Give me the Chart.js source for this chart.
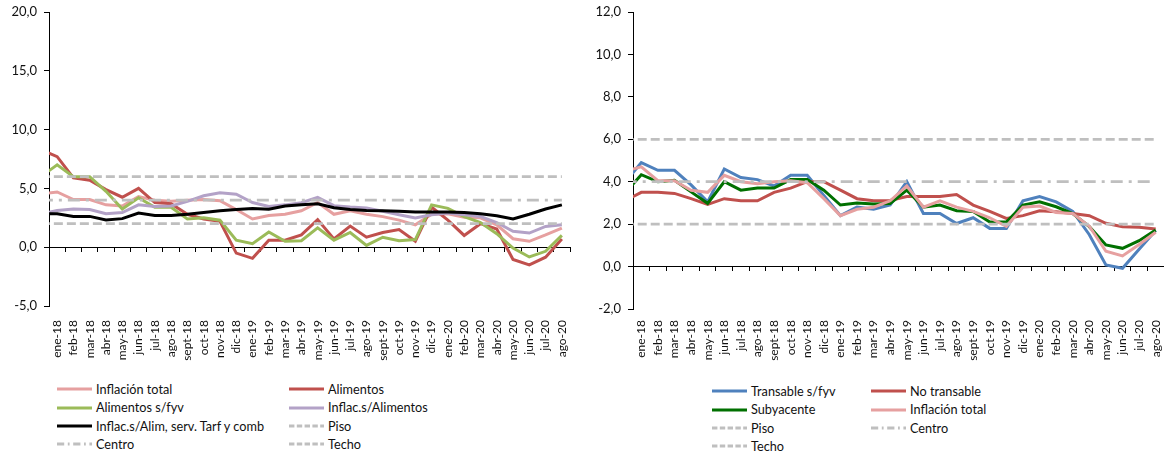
<!DOCTYPE html>
<html lang="es">
<head>
<meta charset="utf-8">
<title>Inflación</title>
<script src="https://cdn.jsdelivr.net/npm/chart.js@4.4.1/dist/chart.umd.min.js"></script>
<style>
  html, body { margin: 0; padding: 0; background: #fff; }
  body { width: 1164px; height: 457px; position: relative; overflow: hidden; font-family: Lato, 'Noto Sans', sans-serif; color: #111; }
  .panel { position: absolute; top: 0; height: 370px; }
  .legend { position: absolute; display: grid; font-size: 12.7px; line-height: 18.4px; }
  .legend .item { display: flex; align-items: center; white-space: nowrap; }
  .legend svg { margin-right: 4px; flex: none; }
</style>
</head>
<body>
<div class="panel" style="left:0;width:580px"><canvas id="chartLeft" width="580" height="370"></canvas></div>
<div class="panel" style="left:580px;width:584px"><canvas id="chartRight" width="584" height="370"></canvas></div>
<div id="legendLeft" class="legend" style="left:57px;top:380px;grid-template-columns:232px auto"></div>
<div id="legendRight" class="legend" style="left:712px;top:382px;grid-template-columns:159px auto"></div>
<script>
// first entry (dic-17) sits outside the visible range, it only feeds the segment that enters at the axis
const months = ['dic-17', 'ene-18', 'feb-18', 'mar-18', 'abr-18', 'may-18', 'jun-18', 'jul-18', 'ago-18', 'sept-18', 'oct-18', 'nov-18',
  'dic-18', 'ene-19', 'feb-19', 'mar-19', 'abr-19', 'may-19', 'jun-19', 'jul-19', 'ago-19', 'sept-19', 'oct-19', 'nov-19',
  'dic-19', 'ene-20', 'feb-20', 'mar-20', 'abr-20', 'may-20', 'jun-20', 'jul-20', 'ago-20'];

const inflacionTotal = [4.5, 4.7, 4.05, 4.05, 3.6, 3.5, 4.3, 4.0, 3.9, 4.0, 4.05, 3.95, 3.2, 2.4, 2.7, 2.8, 3.1, 3.8, 2.8, 3.1, 2.8, 2.6, 2.3, 1.9, 2.8, 2.85, 2.55, 2.5, 1.9, 0.72, 0.5, 1.04, 1.62];
const alimentos = [8.3, 7.7, 5.9, 5.7, 4.9, 4.25, 5.0, 3.8, 3.7, 2.8, 2.4, 2.2, -0.5, -0.95, 0.6, 0.6, 1.05, 2.35, 0.7, 1.8, 0.85, 1.25, 1.5, 0.5, 3.4, 2.3, 1.0, 2.0, 1.55, -1.05, -1.5, -0.85, 0.7];
const alimentosSinFyv = [6.0, 7.0, 6.0, 6.0, 4.75, 3.25, 4.2, 3.4, 3.4, 2.4, 2.5, 2.3, 0.6, 0.3, 1.3, 0.5, 0.55, 1.65, 0.6, 1.25, 0.15, 0.85, 0.55, 0.65, 3.6, 3.3, 2.6, 2.1, 1.15, -0.07, -0.83, -0.35, 1.0];
const inflacSinAlimentos = [2.8, 3.13, 3.24, 3.2, 2.85, 2.95, 3.6, 3.46, 3.5, 3.9, 4.37, 4.62, 4.5, 3.8, 3.47, 3.6, 3.78, 4.24, 3.53, 3.41, 3.33, 3.05, 2.76, 2.48, 2.76, 2.9, 2.76, 2.62, 2.1, 1.35, 1.2, 1.77, 1.9];
const inflacSinAlimServ = [2.85, 2.85, 2.62, 2.62, 2.32, 2.43, 2.9, 2.7, 2.7, 2.8, 2.95, 3.1, 3.2, 3.3, 3.22, 3.5, 3.6, 3.7, 3.35, 3.2, 3.13, 3.1, 3.05, 3.0, 3.0, 3.0, 2.95, 2.85, 2.68, 2.4, 2.8, 3.25, 3.6];

const transableSinFyv = [3.95, 4.9, 4.54, 4.54, 3.85, 3.05, 4.6, 4.2, 4.1, 3.8, 4.3, 4.3, 3.35, 2.4, 2.8, 2.7, 2.9, 4.0, 2.5, 2.5, 2.03, 2.3, 1.8, 1.8, 3.1, 3.3, 3.05, 2.6, 1.5, 0.08, -0.08, 0.82, 1.7];
const noTransable = [3.1, 3.5, 3.5, 3.45, 3.2, 2.93, 3.2, 3.1, 3.1, 3.5, 3.7, 4.0, 4.0, 3.6, 3.2, 3.1, 3.12, 3.3, 3.3, 3.3, 3.4, 2.9, 2.6, 2.27, 2.4, 2.63, 2.58, 2.5, 2.4, 2.04, 1.88, 1.85, 1.77];
const subyacente = [3.45, 4.33, 4.0, 4.07, 3.52, 2.98, 4.0, 3.6, 3.7, 3.7, 4.1, 4.1, 3.6, 2.9, 3.0, 2.95, 2.97, 3.6, 2.8, 2.9, 2.63, 2.6, 2.1, 2.1, 2.9, 3.05, 2.82, 2.5, 1.88, 1.02, 0.86, 1.22, 1.72];

// target band: 2% floor, 4% centre, 6% ceiling
const piso = months.map(() => 2.0);
const centro = months.map(() => 4.0);
const techo = months.map(() => 6.0);

const GRAY = '#bfbfbf';
const DASH = [9, 4];
const DASH_DOT = [12, 6, 3, 6];

function lineSet(label, data, color, width, dash) {
  return { label, data, borderColor: color, backgroundColor: color, borderWidth: width, borderDash: dash || [], pointRadius: 0, tension: 0, fill: false };
}

function withOrder(sets) {
  // later series drawn on top, as in the original spreadsheet
  return sets.map((s, i) => ({ ...s, order: -i }));
}

function buildOptions({ min, max, step, yWidth, xHeight, padRight, labelPad }) {
  const fmt = (v) => v.toFixed(1).replace('.', ',');
  return {
    responsive: false,
    animation: false,
    layout: { padding: { top: 12, right: padRight, bottom: 0, left: 0 } },
    plugins: { legend: { display: false }, tooltip: { enabled: false } },
    scales: {
      x: {
        type: 'category', min: 'ene-18', offset: true,
        grid: { display: false, drawTicks: false }, border: { display: false },
        ticks: { autoSkip: false, minRotation: 90, maxRotation: 90, padding: labelPad, color: '#111', font: { family: 'Lato', size: 12 } },
        afterFit: (s) => { s.height = xHeight; s.paddingLeft = 0; s.paddingRight = 0; }
      },
      xZero: {
        type: 'category', min: 'ene-18', offset: true, position: { y: 0 },
        grid: { display: true, offset: true, drawOnChartArea: false, drawTicks: true, tickLength: 4, color: '#000' },
        border: { display: true, color: '#000', width: 1 },
        ticks: { display: false },
        afterFit: (s) => { s.paddingLeft = 0; s.paddingRight = 0; }
      },
      y: {
        min, max,
        grid: { display: true, drawOnChartArea: false, drawTicks: true, tickLength: 5, color: '#000' },
        border: { display: true, color: '#000', width: 1 },
        ticks: { stepSize: step, padding: 7, color: '#111', font: { family: 'Lato', size: 13 }, callback: fmt },
        afterFit: (s) => { s.width = yWidth; s.paddingTop = 0; s.paddingBottom = 0; }
      }
    }
  };
}

function renderLegend(el, datasets) {
  el.innerHTML = datasets.map((d) => {
    const dash = d.borderDash.length ? `stroke-dasharray="${d.borderDash.map((v) => v * 0.6).join(' ')}"` : '';
    return `<div class="item"><svg width="35" height="6"><line x1="0" y1="3" x2="35" y2="3" stroke="${d.borderColor}" stroke-width="3" ${dash}/></svg><span>${d.label}</span></div>`;
  }).join('');
}

const leftSets = withOrder([
  lineSet('Inflación total', inflacionTotal, '#e6a0a0', 3),
  lineSet('Alimentos', alimentos, '#c0504d', 3),
  lineSet('Alimentos s/fyv', alimentosSinFyv, '#9bbb59', 3),
  lineSet('Inflac.s/Alimentos', inflacSinAlimentos, '#b3a2c7', 3),
  lineSet('Inflac.s/Alim, serv. Tarf y comb', inflacSinAlimServ, '#000000', 3),
  lineSet('Piso', piso, GRAY, 2.8, DASH),
  lineSet('Centro', centro, GRAY, 2.8, DASH_DOT),
  lineSet('Techo', techo, GRAY, 2.8, DASH)
]);

const rightSets = withOrder([
  lineSet('Transable s/fyv', transableSinFyv, '#4f81bd', 3),
  lineSet('No transable', noTransable, '#c0504d', 3),
  lineSet('Subyacente', subyacente, '#007000', 3),
  lineSet('Inflación total', inflacionTotal, '#e6a0a0', 3),
  lineSet('Piso', piso, GRAY, 2.8, DASH),
  lineSet('Centro', centro, GRAY, 2.8, DASH_DOT),
  lineSet('Techo', techo, GRAY, 2.8, DASH)
]);

new Chart(document.getElementById('chartLeft'), {
  type: 'line',
  data: { labels: months, datasets: leftSets },
  options: buildOptions({ min: -5, max: 20, step: 5, yWidth: 49, xHeight: 64, padRight: 10, labelPad: 14 })
});

new Chart(document.getElementById('chartRight'), {
  type: 'line',
  data: { labels: months, datasets: rightSets },
  options: buildOptions({ min: -2, max: 12, step: 2, yWidth: 53, xHeight: 61, padRight: 0, labelPad: 11 })
});

renderLegend(document.getElementById('legendLeft'), leftSets);
renderLegend(document.getElementById('legendRight'), rightSets);
</script>
</body>
</html>
